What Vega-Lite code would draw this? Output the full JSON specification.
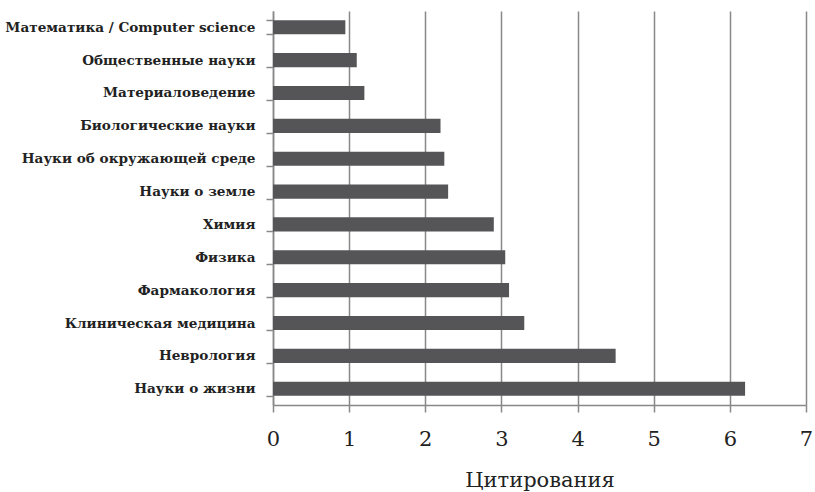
{
  "$schema": "https://vega.github.io/schema/vega-lite/v6.json",
  "width": 533,
  "height": 394,
  "autosize": "none",
  "padding": {"left": 273, "top": 11, "right": 9, "bottom": 87},
  "background": "white",
  "data": {"values": [
    {"field": "Математика / Computer science", "value": 0.95},
    {"field": "Общественные науки", "value": 1.1},
    {"field": "Материаловедение", "value": 1.2},
    {"field": "Биологические науки", "value": 2.2},
    {"field": "Науки об окружающей среде", "value": 2.25},
    {"field": "Науки о земле", "value": 2.3},
    {"field": "Химия", "value": 2.9},
    {"field": "Физика", "value": 3.05},
    {"field": "Фармакология", "value": 3.1},
    {"field": "Клиническая медицина", "value": 3.3},
    {"field": "Неврология", "value": 4.5},
    {"field": "Науки о жизни", "value": 6.2}
  ]},
  "config": {"view": {"stroke": null}},
  "mark": {"type": "bar", "color": "#555557"},
  "encoding": {
    "y": {
      "field": "field", "type": "nominal", "sort": null,
      "scale": {"paddingInner": 0.57, "paddingOuter": 0.28},
      "axis": {
        "title": null,
        "tickBand": "extent",
        "tickSize": 7,
        "tickColor": "#888888",
        "tickWidth": 1.5,
        "domainColor": "#888888",
        "domainWidth": 1.5,
        "labelPadding": 11,
        "labelLimit": 300,
        "labelFont": "DejaVu Serif",
        "labelFontWeight": "bold",
        "labelFontSize": 13.6,
        "labelColor": "#222222",
        "grid": false
      }
    },
    "x": {
      "field": "value", "type": "quantitative",
      "scale": {"domain": [0, 7], "nice": false},
      "axis": {
        "title": "Цитирования",
        "values": [0, 1, 2, 3, 4, 5, 6, 7],
        "format": "d",
        "grid": true,
        "gridColor": "#888888",
        "gridWidth": 1.5,
        "tickSize": 7,
        "tickColor": "#888888",
        "tickWidth": 1.5,
        "domainColor": "#888888",
        "domainWidth": 1.5,
        "labelPadding": 16,
        "labelFont": "DejaVu Serif",
        "labelFontSize": 21,
        "labelColor": "#222222",
        "labelFlush": false,
        "titleFont": "DejaVu Serif",
        "titleFontSize": 21,
        "titleFontWeight": 500,
        "titleColor": "#222222",
        "titlePadding": 20
      }
    }
  }
}
